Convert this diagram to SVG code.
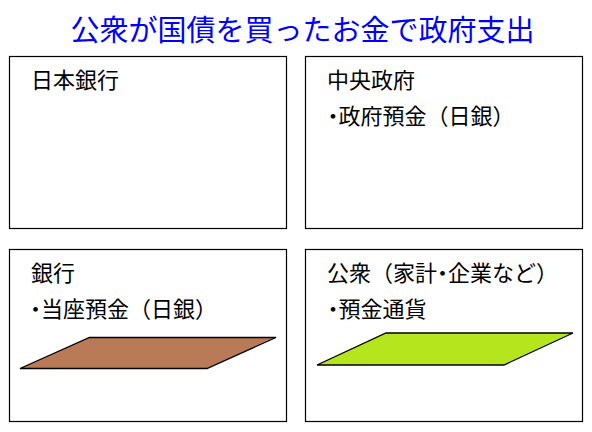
<svg xmlns="http://www.w3.org/2000/svg" width="592" height="432" viewBox="0 0 592 432">
<style>
.box{fill:#fff;stroke:#000;stroke-width:1.2}
.t{font-family:"Noto Sans CJK JP","Noto Sans CJK SC",sans-serif;font-size:22px;fill:#000}
.p{font-feature-settings:"palt"}
.title{font-family:"Noto Sans CJK JP","Noto Sans CJK SC",sans-serif;font-size:29px;fill:#0000FF;text-anchor:middle}
.pg{stroke:#000;stroke-width:1.3}
</style>
<rect width="592" height="432" fill="#fff"/>
<text class="title" x="302.5" y="41">公衆が国債を買ったお金で政府支出</text>
<g id="boj">
<rect class="box" x="9.5" y="56.5" width="277" height="172"/>
<text class="t" x="31" y="88">日本銀行</text>
</g>
<g id="gov">
<rect class="box" x="305.5" y="56.5" width="277" height="172"/>
<text class="t" x="327" y="88">中央政府</text>
<text class="t" x="327.5" y="124"><tspan class="p">・</tspan>政府預金（日銀）</text>
</g>
<g id="bank">
<rect class="box" x="9.5" y="249.5" width="277" height="172"/>
<text class="t" x="31" y="281">銀行</text>
<text class="t" x="30" y="317"><tspan class="p">・</tspan>当座預金（日銀）</text>
<polygon class="pg" fill="#B97A57" points="20,368.5 89.5,337.5 276,337.5 207,368.5"/>
</g>
<g id="public">
<rect class="box" x="305.5" y="249.5" width="277" height="172"/>
<text class="t" x="327" y="281">公衆（家計<tspan class="p">・</tspan>企業など）</text>
<text class="t" x="327.5" y="317"><tspan class="p">・</tspan>預金通貨</text>
<polygon class="pg" fill="#B5E61D" points="317,365 386,333 573,333 504,365"/>
</g>
<g id="connectors"></g>
</svg>
